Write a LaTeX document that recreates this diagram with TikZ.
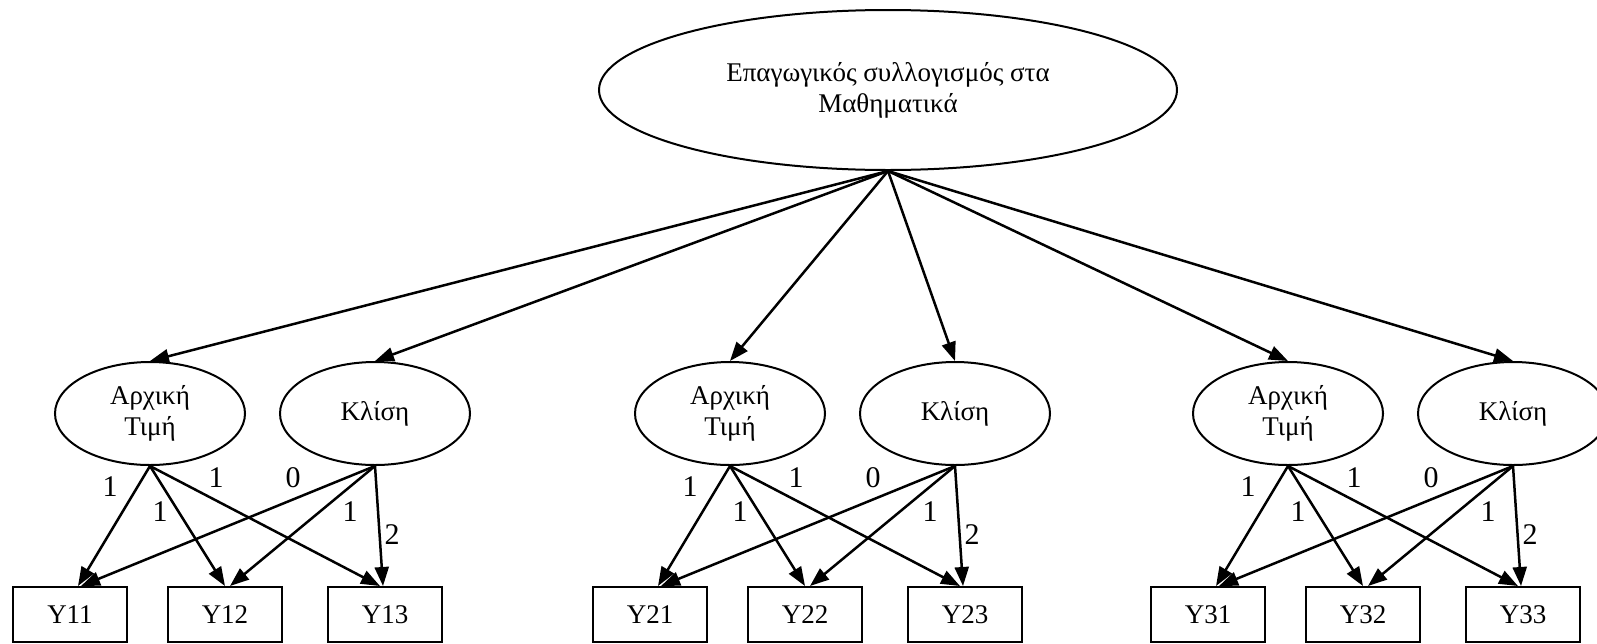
\documentclass[tikz,border=0pt]{standalone}
\usepackage{fontspec}
\setmainfont{Liberation Serif}
\usetikzlibrary{shapes.geometric,arrows.meta}
\begin{document}
\begin{tikzpicture}[x=1pt,y=-1pt,
  latent/.style={ellipse,draw,line width=2pt,minimum width=190pt,minimum height=103pt,
    inner sep=0pt,align=center,font=\fontsize{27}{31}\selectfont},
  indicator/.style={rectangle,draw,line width=2pt,minimum width=114pt,minimum height=55pt,
    inner sep=0pt,font=\fontsize{27}{31}\selectfont},
  link/.style={line width=2.5pt,-{Triangle[length=19pt,width=14pt]}},
  coef/.style={font=\fontsize{30}{34}\selectfont,inner sep=0pt}
]
\clip (0,0) rectangle (1597,643);

% general factor
\node[latent,minimum width=578pt,minimum height=160pt] (T) at (888,90)
  {Επαγωγικός συλλογισμός στα\\Μαθηματικά};

% three growth models: intercept, slope, three indicators each
\foreach \g/\ox in {1/0,2/580,3/1138}{
  \begin{scope}[xshift=\ox pt]
    \node[latent] (A\g) at (150,413.5) {Αρχική\\Τιμή};
    \node[latent] (K\g) at (375,413.5) {Κλίση};
    \node[indicator] (Y\g1) at (70,614.5)  {Y\g1};
    \node[indicator] (Y\g2) at (225,614.5) {Y\g2};
    \node[indicator] (Y\g3) at (385,614.5) {Y\g3};

    \draw[link] (A\g.south) -- ([xshift=8pt]Y\g1.north);
    \draw[link] (A\g.south) -- ([xshift=0pt]Y\g2.north);
    \draw[link] (A\g.south) -- ([xshift=-5pt]Y\g3.north);
    \draw[link] (K\g.south) -- ([xshift=11pt]Y\g1.north);
    \draw[link] (K\g.south) -- ([xshift=5pt]Y\g2.north);
    \draw[link] (K\g.south) -- ([xshift=-2pt]Y\g3.north);

    \node[coef] (c\g a) at (110,487) {1};
    \node[coef] (c\g b) at (160,512) {1};
    \node[coef] (c\g c) at (216,478) {1};
    \node[coef] (c\g d) at (293,478) {0};
    \node[coef] (c\g e) at (350,512) {1};
    \node[coef] (c\g f) at (392,535) {2};
  \end{scope}
  \draw[link] (T.south) -- (A\g.north);
  \draw[link] (T.south) -- (K\g.north);
}
\end{tikzpicture}
\end{document}
